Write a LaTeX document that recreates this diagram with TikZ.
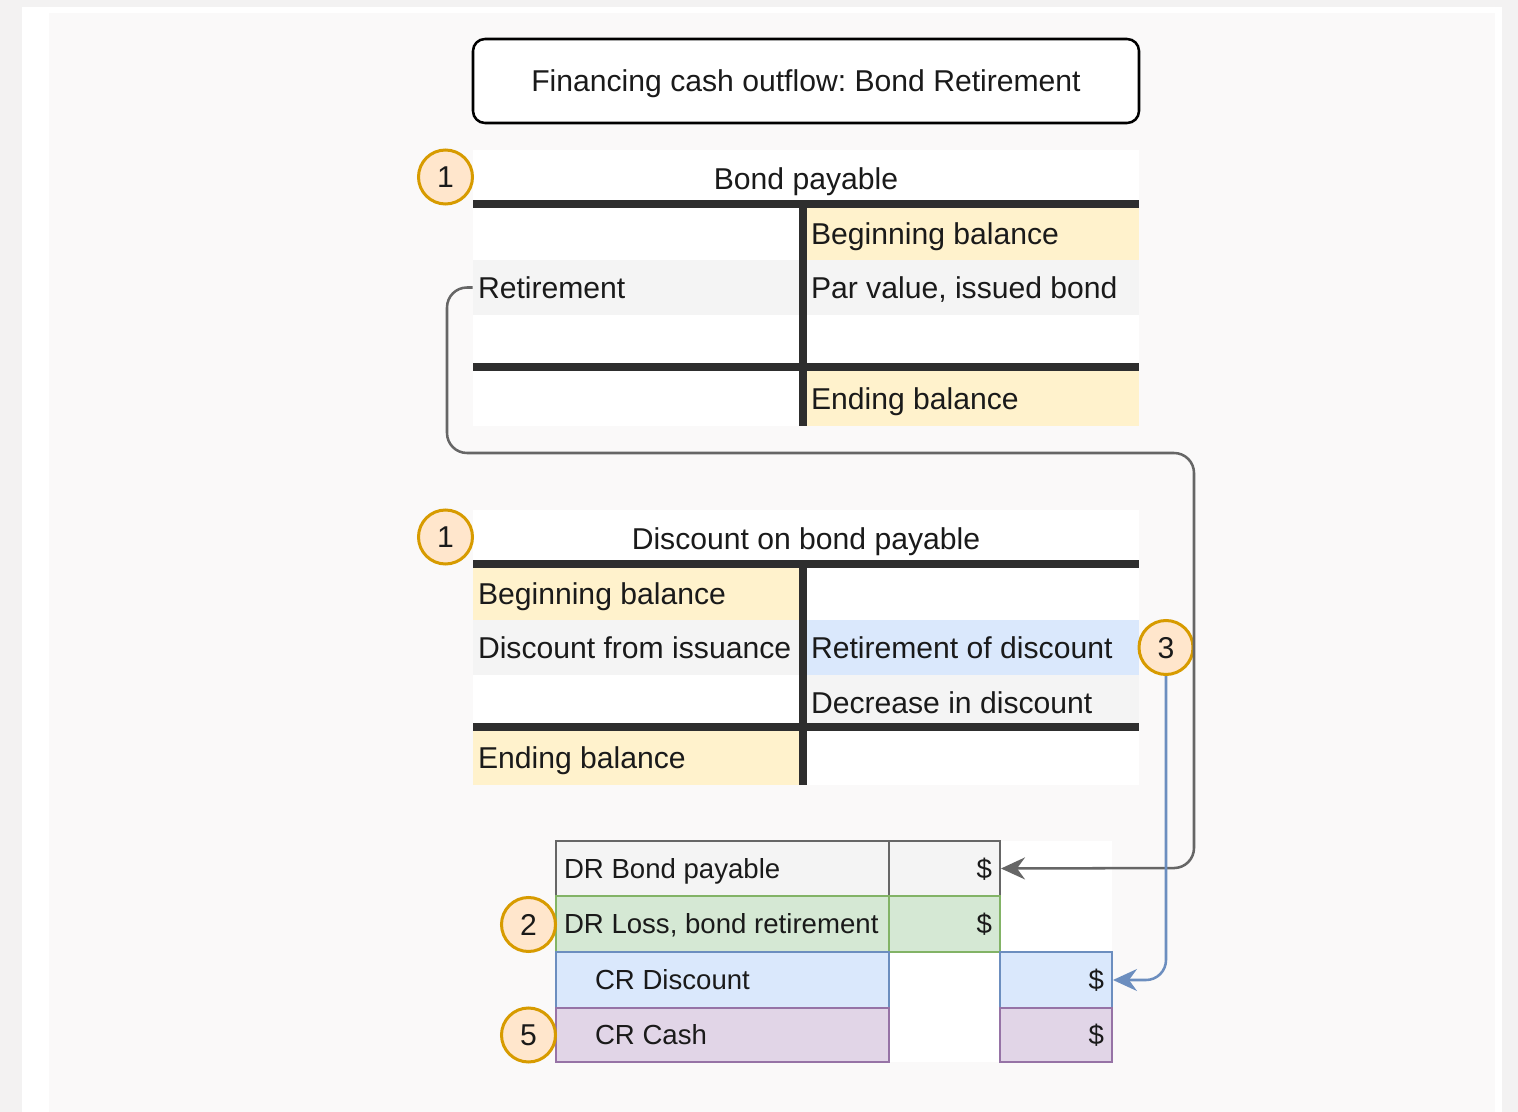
\documentclass[tikz,border=0pt]{standalone}
\usepackage{fontspec}
\setmainfont{Liberation Sans}
\usetikzlibrary{arrows.meta}
\frenchspacing
\newdimen\px \px=0.75pt
\definecolor{tline}{HTML}{2E2E2E}
\definecolor{yel}{HTML}{FFF2CC}
\definecolor{gry}{HTML}{F4F4F4}
\definecolor{blu}{HTML}{DAE8FC}
\definecolor{bluD}{HTML}{6C8EBF}
\definecolor{grn}{HTML}{D5E8D4}
\definecolor{grnD}{HTML}{82B366}
\definecolor{pur}{HTML}{E1D5E7}
\definecolor{purD}{HTML}{9673A6}
\definecolor{orF}{HTML}{FFE6CC}
\definecolor{orD}{HTML}{D79B00}
\definecolor{conn}{HTML}{666666}
\definecolor{bgout}{HTML}{F3F2F2}
\definecolor{bgin}{HTML}{FAF9F9}
\definecolor{txt}{HTML}{1A1A1A}
\newcommand\tfont{\fontsize{22.6pt}{27pt}\selectfont}
\newcommand\jfont{\fontsize{20.7pt}{25pt}\selectfont}
% name, x, y, w, h, pad, align, style, text
\newcommand\tcell[9]{\node[cellsty,#8,minimum width={#4*0.75pt},minimum height={#5*0.75pt}] (#1) at ({#2+#4/2},{#3+#5/2}) {\makebox[\dimexpr #4\px-#6\px-#6\px\relax][#7]{#9}};}
\tikzset{
  cellsty/.style={rectangle, inner sep=0pt, text depth=0pt, text=txt},
  tac/.style={font=\tfont, text height=16.2pt},
  jrow/.style={font=\jfont, text height=14.8pt, line width=1.5pt},
  num/.style={circle, fill=orF, draw=orD, line width=2.25pt, minimum size=40.5pt, inner sep=0pt, font=\tfont, text height=16.2pt, text depth=0pt, text=txt},
  bar/.style={fill=tline},
  connarrow/.style={line width=1.9pt, rounded corners=15pt, -{Stealth[length=18pt,width=16.5pt,inset=6pt]}}
}
\begin{document}
\begin{tikzpicture}[x=0.75pt,y=-0.75pt]
\useasboundingbox (0,0) rectangle (1518,1112);
% background
\fill[bgout] (0,0) rectangle (1518,1112);
\fill[white] (22,7) rectangle (1502,1112);
\fill[bgin] (49,13) rectangle (1495,1112);

% title
\node[draw=black, line width=1.9pt, rounded corners=9pt, fill=white, minimum width=499.5pt, minimum height=63pt, inner sep=0pt, font=\tfont, text height=16.2pt, text depth=0pt, text=txt] (title) at (806,81) {Financing cash outflow: Bond Retirement};

% ---- T-account: Bond payable
\tcell{bpH}{473}{150}{666}{58}{0}{c}{tac,fill=white}{Bond payable}
\tcell{bp1L}{473}{208}{330}{52}{5}{l}{tac,fill=white}{}
\tcell{bp1R}{803}{208}{336}{52}{8}{l}{tac,fill=yel}{Beginning balance}
\tcell{bp2L}{473}{260}{330}{55}{5}{l}{tac,fill=gry}{Retirement}
\tcell{bp2R}{803}{260}{336}{55}{8}{l}{tac,fill=gry}{Par value, issued bond}
\tcell{bp3L}{473}{315}{330}{56}{5}{l}{tac,fill=white}{}
\tcell{bp3R}{803}{315}{336}{56}{8}{l}{tac,fill=white}{}
\tcell{bp4L}{473}{371}{330}{55}{5}{l}{tac,fill=white}{}
\tcell{bp4R}{803}{371}{336}{55}{8}{l}{tac,fill=yel}{Ending balance}
\fill[bar] (473,200) rectangle (1139,208);
\fill[bar] (473,363) rectangle (1139,371);
\fill[bar] (799,200) rectangle (807,426);

% ---- T-account: Discount on bond payable
\tcell{dH}{473}{510}{666}{58}{0}{c}{tac,fill=white}{Discount on bond payable}
\tcell{d1L}{473}{568}{330}{52}{5}{l}{tac,fill=yel}{Beginning balance}
\tcell{d1R}{803}{568}{336}{52}{8}{l}{tac,fill=white}{}
\tcell{d2L}{473}{620}{330}{55}{5}{l}{tac,fill=gry}{Discount from issuance}
\tcell{d2R}{803}{620}{336}{55}{8}{l}{tac,fill=blu}{Retirement of discount}
\tcell{d3L}{473}{675}{330}{56}{5}{l}{tac,fill=white}{}
\tcell{d3R}{803}{675}{336}{56}{8}{l}{tac,fill=gry}{Decrease in discount}
\tcell{d4L}{473}{731}{330}{54}{5}{l}{tac,fill=yel}{Ending balance}
\tcell{d4R}{803}{731}{336}{54}{8}{l}{tac,fill=white}{}
\fill[bar] (473,560) rectangle (1139,568);
\fill[bar] (473,723) rectangle (1139,731);
\fill[bar] (799,560) rectangle (807,785);

% ---- journal entry
\fill[white] (556,841) rectangle (1112,1062);
\tcell{j1a}{556}{841}{333}{55}{8}{l}{jrow,fill=gry,draw=conn}{DR Bond payable}
\tcell{j1b}{889}{841}{111}{55}{8}{r}{jrow,fill=gry,draw=conn}{\$}
\tcell{j2a}{556}{896}{333}{56}{8}{l}{jrow,fill=grn,draw=grnD}{DR Loss, bond retirement}
\tcell{j2b}{889}{896}{111}{56}{8}{r}{jrow,fill=grn,draw=grnD}{\$}
\tcell{j3a}{556}{952}{333}{56}{39}{l}{jrow,fill=blu,draw=bluD}{CR Discount}
\tcell{j3c}{1000}{952}{112}{56}{8}{r}{jrow,fill=blu,draw=bluD}{\$}
\tcell{j4a}{556}{1008}{333}{54}{39}{l}{jrow,fill=pur,draw=purD}{CR Cash}
\tcell{j4c}{1000}{1008}{112}{54}{8}{r}{jrow,fill=pur,draw=purD}{\$}

% ---- numbered circles
\node[num] (c1a) at (445.5,177) {1};
\node[num] (c1b) at (445.5,537) {1};
\node[num] (c3) at (1166,647.5) {3};
\node[num] (c2) at (528.5,924.5) {2};
\node[num] (c5) at (528.5,1035) {5};

% ---- connectors
\coordinate (g1) at (447,453);
\coordinate (g2) at (1194,868);
\draw[conn, connarrow] (bp2L.west) -| (g1) -| (g2) -- (j1b.east);
\draw[bluD, connarrow] (c3.south) |- (j3c.east);
\end{tikzpicture}
\end{document}
